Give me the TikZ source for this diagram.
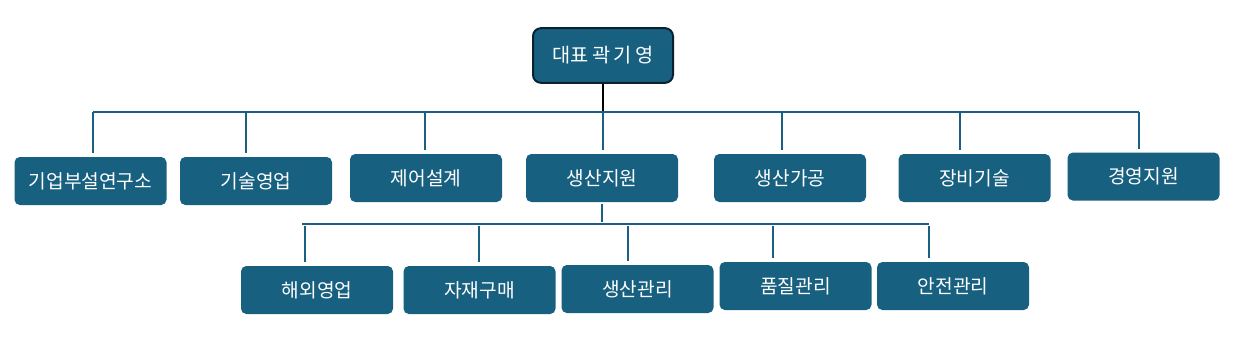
\documentclass[tikz,border=0pt]{standalone}
\usepackage{fontspec}
\usepackage{xcolor}
\newfontfamily\kofont{Noto Sans CJK KR}
\definecolor{orgteal}{RGB}{24,96,128}
\definecolor{orgdark}{RGB}{10,34,48}
\definecolor{orgline}{RGB}{26,96,130}
\newcommand{\deptfont}{\kofont\fontsize{14.4}{16}\selectfont}
\newcommand{\headfont}{\kofont\fontsize{14.8}{16}\selectfont}

\begin{document}
\begin{tikzpicture}[x=0.75pt,y=-0.75pt,
        head/.style={rectangle,rounded corners=6pt,draw=orgdark,fill=orgteal,line width=1.5pt,
          text=white,minimum width=105pt,minimum height=41pt,inner sep=0pt,font=\headfont},
        dept/.style={rectangle,rounded corners=4pt,fill=orgteal,text=white,
          minimum width=114pt,minimum height=36pt,inner sep=0pt,font=\deptfont},
        bus/.style={draw=orgline,line width=1.5pt},
        drop/.style={bus,shorten >=2.5pt},
        trunk/.style={draw=black,line width=1.5pt}]
        \useasboundingbox (0,0) rectangle (1244,353);
        \node[head] (ceo) at (603,55.5) {대표\,곽\,기\,영};
        % first row
        \node[dept] (research) at (90.5,181) {기업부설연구소};
        \node[dept] (techsales) at (256,181) {기술영업};
        \node[dept] (ctrldesign) at (426,178) {제어설계};
        \node[dept] (prodsupport) at (602,178) {생산지원};
        \node[dept] (prodproc) at (790,178) {생산가공};
        \node[dept] (equiptech) at (974.5,178) {장비기술};
        \node[dept] (mgmtsupport) at (1143.5,176.5) {경영지원};
        % second row under prodsupport
        \node[dept] (oversea) at (317,290) {해외영업};
        \node[dept] (purchase) at (479.5,290) {자재구매};
        \node[dept] (prodmgmt) at (637.5,289) {생산관리};
        \node[dept] (quality) at (795.5,286) {품질관리};
        \node[dept] (safety) at (953,286) {안전관리};
        % upper bus
        \coordinate (ceojoin) at (603,112);
        \coordinate (busL) at (93,112);
        \coordinate (busR) at (1139,112);
        \draw[trunk] (ceo) -- (ceojoin);
        \draw[bus] (busL) -- (busR);
        \foreach \x/\n in {93/research,246/techsales,425/ctrldesign,603/prodsupport,
            782/prodproc,960/equiptech,1139/mgmtsupport}{
          \coordinate (j\n) at (\x,112);
          \draw[drop] (j\n) -- (j\n |- \n.north);
        }
        % lower bus
        \coordinate (subjoin) at (602,222);
        \coordinate (subL) at (302,224);
        \coordinate (subR) at (929,224);
        \draw[bus,shorten <=1pt] (prodsupport) -- (subjoin);
        \draw[bus] (subL) -- (subR);
        \foreach \x/\n in {305/oversea,479/purchase,628/prodmgmt,773/quality,929/safety}{
          \coordinate (k\n) at (\x,226);
          \draw[drop,shorten >=3pt] (k\n) -- (k\n |- \n.north);
        }
      \end{tikzpicture}
\end{document}
